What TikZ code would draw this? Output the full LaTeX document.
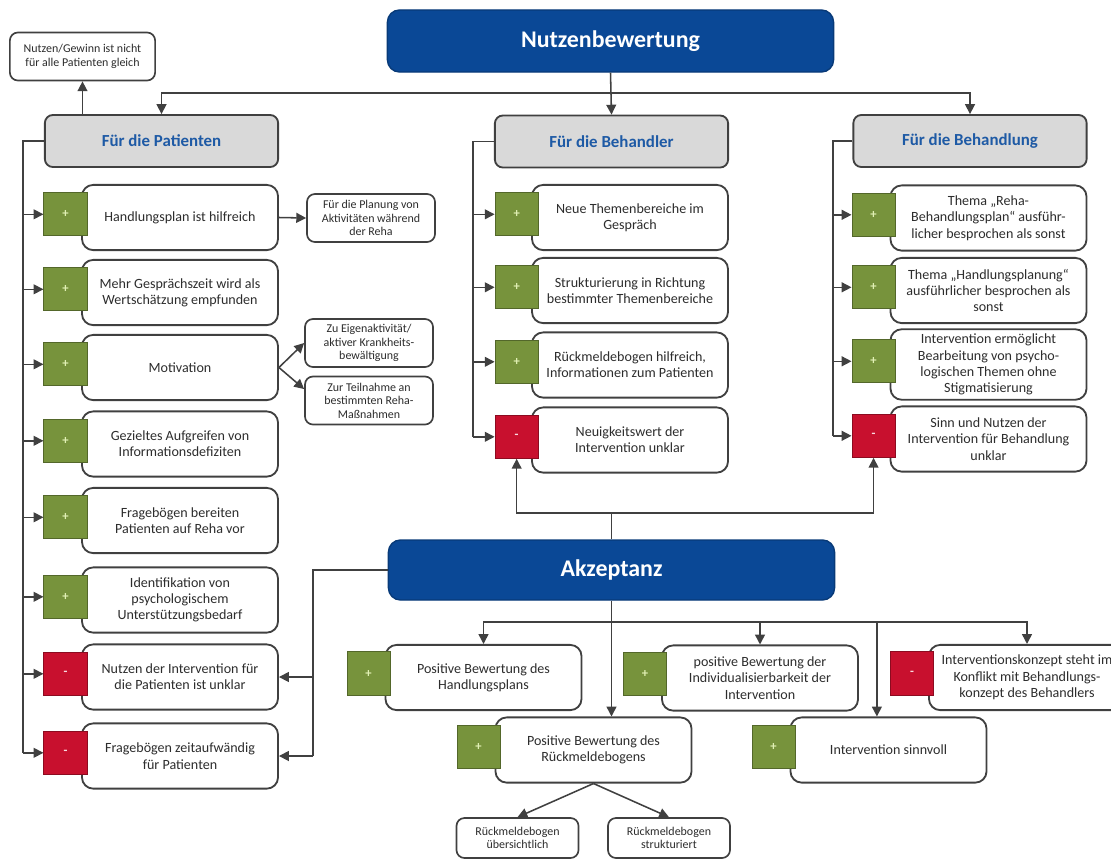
\documentclass[tikz,border=0pt]{standalone}
\usepackage{fontspec}
\setmainfont{Carlito}
\usetikzlibrary{arrows.meta}

\definecolor{mainblue}{RGB}{10,72,150}
\definecolor{headblue}{RGB}{30,90,165}
\definecolor{headgray}{RGB}{217,217,217}
\definecolor{linegray}{RGB}{64,64,64}
\definecolor{textgray}{RGB}{45,45,45}
\definecolor{okgreen}{RGB}{119,147,60}
\definecolor{badred}{RGB}{200,16,46}
\definecolor{plustext}{RGB}{225,240,180}

\tikzset{
  mainbox/.style={fill=mainblue, draw=mainblue!80!black, line width=1pt, rounded corners=0.3cm,
    minimum width=11.15cm, minimum height=1.55cm, text=white,
    font=\fontsize{17}{20}\selectfont\bfseries},
  headbox/.style={fill=headgray, draw=linegray, line width=1.3pt, rounded corners=0.2cm,
    minimum width=5.83cm, minimum height=1.3cm, text=headblue,
    font=\fontsize{12}{14}\selectfont\bfseries},
  itembox/.style={fill=white, draw=linegray, line width=1.3pt, rounded corners=0.28cm,
    minimum width=4.9cm, minimum height=1.63cm, align=center, text=textgray,
    font=\fontsize{10}{11.6}\selectfont},
  notebox/.style={fill=white, draw=linegray, line width=1.2pt, rounded corners=0.2cm,
    minimum width=3.2cm, minimum height=1.2cm, align=center, text=textgray,
    font=\fontsize{8.5}{9.6}\selectfont},
  posbox/.style={fill=okgreen, draw=okgreen!70!black, line width=0.6pt, minimum size=1.08cm,
    inner sep=0pt, text=plustext, font=\small\bfseries},
  negbox/.style={fill=badred, draw=badred!70!black, line width=0.6pt, minimum size=1.08cm,
    inner sep=0pt, text=white!85!badred, font=\small\bfseries},
  con/.style={draw=linegray, line width=1.1pt},
  arr/.style={con, -{Triangle[length=7pt,width=7pt]}},
}

\begin{document}
\begin{tikzpicture}[x=0.025cm, y=-0.025cm]
  \useasboundingbox (0,0) rectangle (1111,863);

  % top level
  \node[mainbox] (nutz) at (610.5,41) {Nutzenbewertung};
  \node[headbox] (pat) at (161.5,141) {Für die Patienten};
  \node[headbox] (beh) at (611.5,141.5) {Für die Behandler};
  \node[headbox] (bhg) at (970,141) {Für die Behandlung};
  \node[notebox, minimum width=3.63cm] (gew) at (82.5,56.5) {Nutzen/Gewinn ist nicht\\für alle Patienten gleich};

  % patients
  \node[itembox] (l1) at (180,217.5) {Handlungsplan ist hilfreich};
  \node[posbox] (l1s) at ([xshift=-0.39cm,yshift=0.08cm]l1.west) {+};
  \node[itembox] (l2) at (180,292.5) {Mehr Gesprächszeit wird als\\Wertschätzung empfunden};
  \node[posbox] (l2s) at ([xshift=-0.39cm,yshift=0.08cm]l2.west) {+};
  \node[itembox] (l3) at (180,367.5) {Motivation};
  \node[posbox] (l3s) at ([xshift=-0.39cm,yshift=0.08cm]l3.west) {+};
  \node[itembox] (l4) at (180,444) {Gezieltes Aufgreifen von\\Informationsdefiziten};
  \node[posbox] (l4s) at ([xshift=-0.39cm,yshift=0.08cm]l4.west) {+};
  \node[itembox] (l5) at (180,520.5) {Fragebögen bereiten\\Patienten auf Reha vor};
  \node[posbox] (l5s) at ([xshift=-0.39cm,yshift=0.08cm]l5.west) {+};
  \node[itembox] (l6) at (180,600) {Identifikation von\\psychologischem\\Unterstützungsbedarf};
  \node[posbox] (l6s) at ([xshift=-0.39cm,yshift=0.08cm]l6.west) {+};
  \node[itembox] (l7) at (180,677) {Nutzen der Intervention für\\die Patienten ist unklar};
  \node[negbox] (l7s) at ([xshift=-0.39cm,yshift=0.08cm]l7.west) {-};
  \node[itembox] (l8) at (180,756) {Fragebögen zeitaufwändig\\für Patienten};
  \node[negbox] (l8s) at ([xshift=-0.39cm,yshift=0.08cm]l8.west) {-};

  \node[notebox] (plan) at (371,218) {Für die Planung von\\Aktivitäten während\\der Reha};
  \node[notebox] (eigen) at (369,343) {Zu Eigenaktivität/\\aktiver Krankheits-\\bewältigung};
  \node[notebox] (teil) at (369,400.5) {Zur Teilnahme an\\bestimmten Reha-\\Maßnahmen};

  % therapists
  \node[itembox] (m1) at (630,217.5) {Neue Themenbereiche im\\Gespräch};
  \node[posbox] (m1s) at ([xshift=-0.36cm,yshift=0.08cm]m1.west) {+};
  \node[itembox] (m2) at (630,290.5) {Strukturierung in Richtung\\bestimmter Themenbereiche};
  \node[posbox] (m2s) at ([xshift=-0.36cm,yshift=0.08cm]m2.west) {+};
  \node[itembox] (m3) at (630,365) {Rückmeldebogen hilfreich,\\Informationen zum Patienten};
  \node[posbox] (m3s) at ([xshift=-0.36cm,yshift=0.08cm]m3.west) {+};
  \node[itembox] (m4) at (630,440) {Neuigkeitswert der\\Intervention unklar};
  \node[negbox] (m4s) at ([xshift=-0.36cm,yshift=0.08cm]m4.west) {-};

  % treatment
  \node[itembox] (r1) at (988.5,218) {Thema „Reha-\\Behandlungsplan“ ausführ-\\licher besprochen als sonst};
  \node[posbox] (r1s) at ([xshift=-0.4cm,yshift=0.08cm]r1.west) {+};
  \node[itembox] (r2) at (988.5,290.5) {Thema „Handlungsplanung“\\ausführlicher besprochen als\\sonst};
  \node[posbox] (r2s) at ([xshift=-0.4cm,yshift=0.08cm]r2.west) {+};
  \node[itembox] (r3) at (988.5,364.5) {Intervention ermöglicht\\Bearbeitung von psycho-\\logischen Themen ohne\\Stigmatisierung};
  \node[posbox] (r3s) at ([xshift=-0.4cm,yshift=0.08cm]r3.west) {+};
  \node[itembox] (r4) at (988.5,439) {Sinn und Nutzen der\\Intervention für Behandlung\\unklar};
  \node[negbox] (r4s) at ([xshift=-0.4cm,yshift=0.08cm]r4.west) {-};

  % acceptance
  \node[mainbox, minimum height=1.5cm] (akz) at (611.5,570) {Akzeptanz};
  \node[itembox] (a1) at (483.5,677.5) {Positive Bewertung des\\Handlungsplans};
  \node[posbox] (a1s) at ([xshift=-0.4cm,yshift=0.1cm]a1.west) {+};
  \node[itembox] (a2) at (760,678) {positive Bewertung der\\Individualisierbarkeit der\\Intervention};
  \node[posbox] (a2s) at ([xshift=-0.4cm,yshift=0.1cm]a2.west) {+};
  \node[itembox] (a3) at (1027,677.5) {Interventionskonzept steht im\\Konflikt mit Behandlungs-\\konzept des Behandlers};
  \node[negbox] (a3s) at ([xshift=-0.4cm,yshift=0.1cm]a3.west) {-};
  \node[itembox] (a4) at (593.5,750) {Positive Bewertung des\\Rückmeldebogens};
  \node[posbox] (a4s) at ([xshift=-0.4cm,yshift=0.08cm]a4.west) {+};
  \node[itembox] (a5) at (888.5,750) {Intervention sinnvoll};
  \node[posbox] (a5s) at ([xshift=-0.4cm,yshift=0.08cm]a5.west) {+};
  \node[notebox, minimum width=3.05cm, minimum height=1cm] (ruebs) at (517.5,838) {Rückmeldebogen\\übersichtlich};
  \node[notebox, minimum width=3.05cm, minimum height=1cm] (rstr) at (669,838) {Rückmeldebogen\\strukturiert};

  % connectors, top
  \coordinate (tsplit) at (610.5,93);
  \draw[arr] (nutz.south) -- (beh.north);
  \draw[arr] (tsplit) -| (pat.north);
  \draw[arr] (tsplit) -| (bhg.north);
  \draw[arr] (pat.north -| gew.south) -- (gew.south);

  % trunks
  \coordinate (ltrunk) at (23,0);
  \coordinate (mtrunk) at (473,0);
  \coordinate (rtrunk) at (833,0);
  \draw[con] (pat.west) -- (pat.west -| ltrunk) -- (ltrunk |- l8s.west);
  \draw[con] (beh.west) -- (beh.west -| mtrunk) -- (mtrunk |- m4s.west);
  \draw[con] (bhg.west) -- (bhg.west -| rtrunk) -- (rtrunk |- r4s.west);
  \foreach \n in {l1s,l2s,l3s,l4s,l5s,l6s,l7s,l8s}
    \draw[arr] (ltrunk |- \n.west) -- (\n.west);
  \foreach \n in {m1s,m2s,m3s,m4s}
    \draw[arr] (mtrunk |- \n.west) -- (\n.west);
  \foreach \n in {r1s,r2s,r3s,r4s}
    \draw[arr] (rtrunk |- \n.west) -- (\n.west);

  \draw[arr] (l1.east) -- (plan.west);
  \draw[arr] (l3.east) -- (eigen.west);
  \draw[arr] (l3.east) -- (teil.170);

  % connectors, acceptance
  \coordinate (asplit) at (611.5,513);
  \draw[con] (akz.north) -- (asplit);
  \draw[arr] (asplit) -| (m4s.south);
  \draw[arr] (asplit) -| (r4s.south);

  \coordinate (ktrunk) at (313,570);
  \draw[con] (akz.west) -- (ktrunk) -- (ktrunk |- l8.east);
  \draw[arr] (ktrunk |- l7.east) -- (l7.east);
  \draw[arr] (ktrunk |- l8.east) -- (l8.east);

  \coordinate (bsplit) at (611.5,622);
  \coordinate (a5in) at ([xshift=-0.29cm]a5.north);
  \draw[arr] (akz.south) -- (akz.south |- a4.north);
  \draw[arr] (bsplit) -| (a1.north);
  \draw[arr] (bsplit) -| (a3.north);
  \draw[arr] (bsplit -| a2.north) -- (a2.north);
  \draw[arr] (bsplit -| a5in) -- (a5in);
  \draw[arr] (a4.south) -- (ruebs.north);
  \draw[arr] (a4.south) -- (rstr.north);
\end{tikzpicture}
\end{document}
